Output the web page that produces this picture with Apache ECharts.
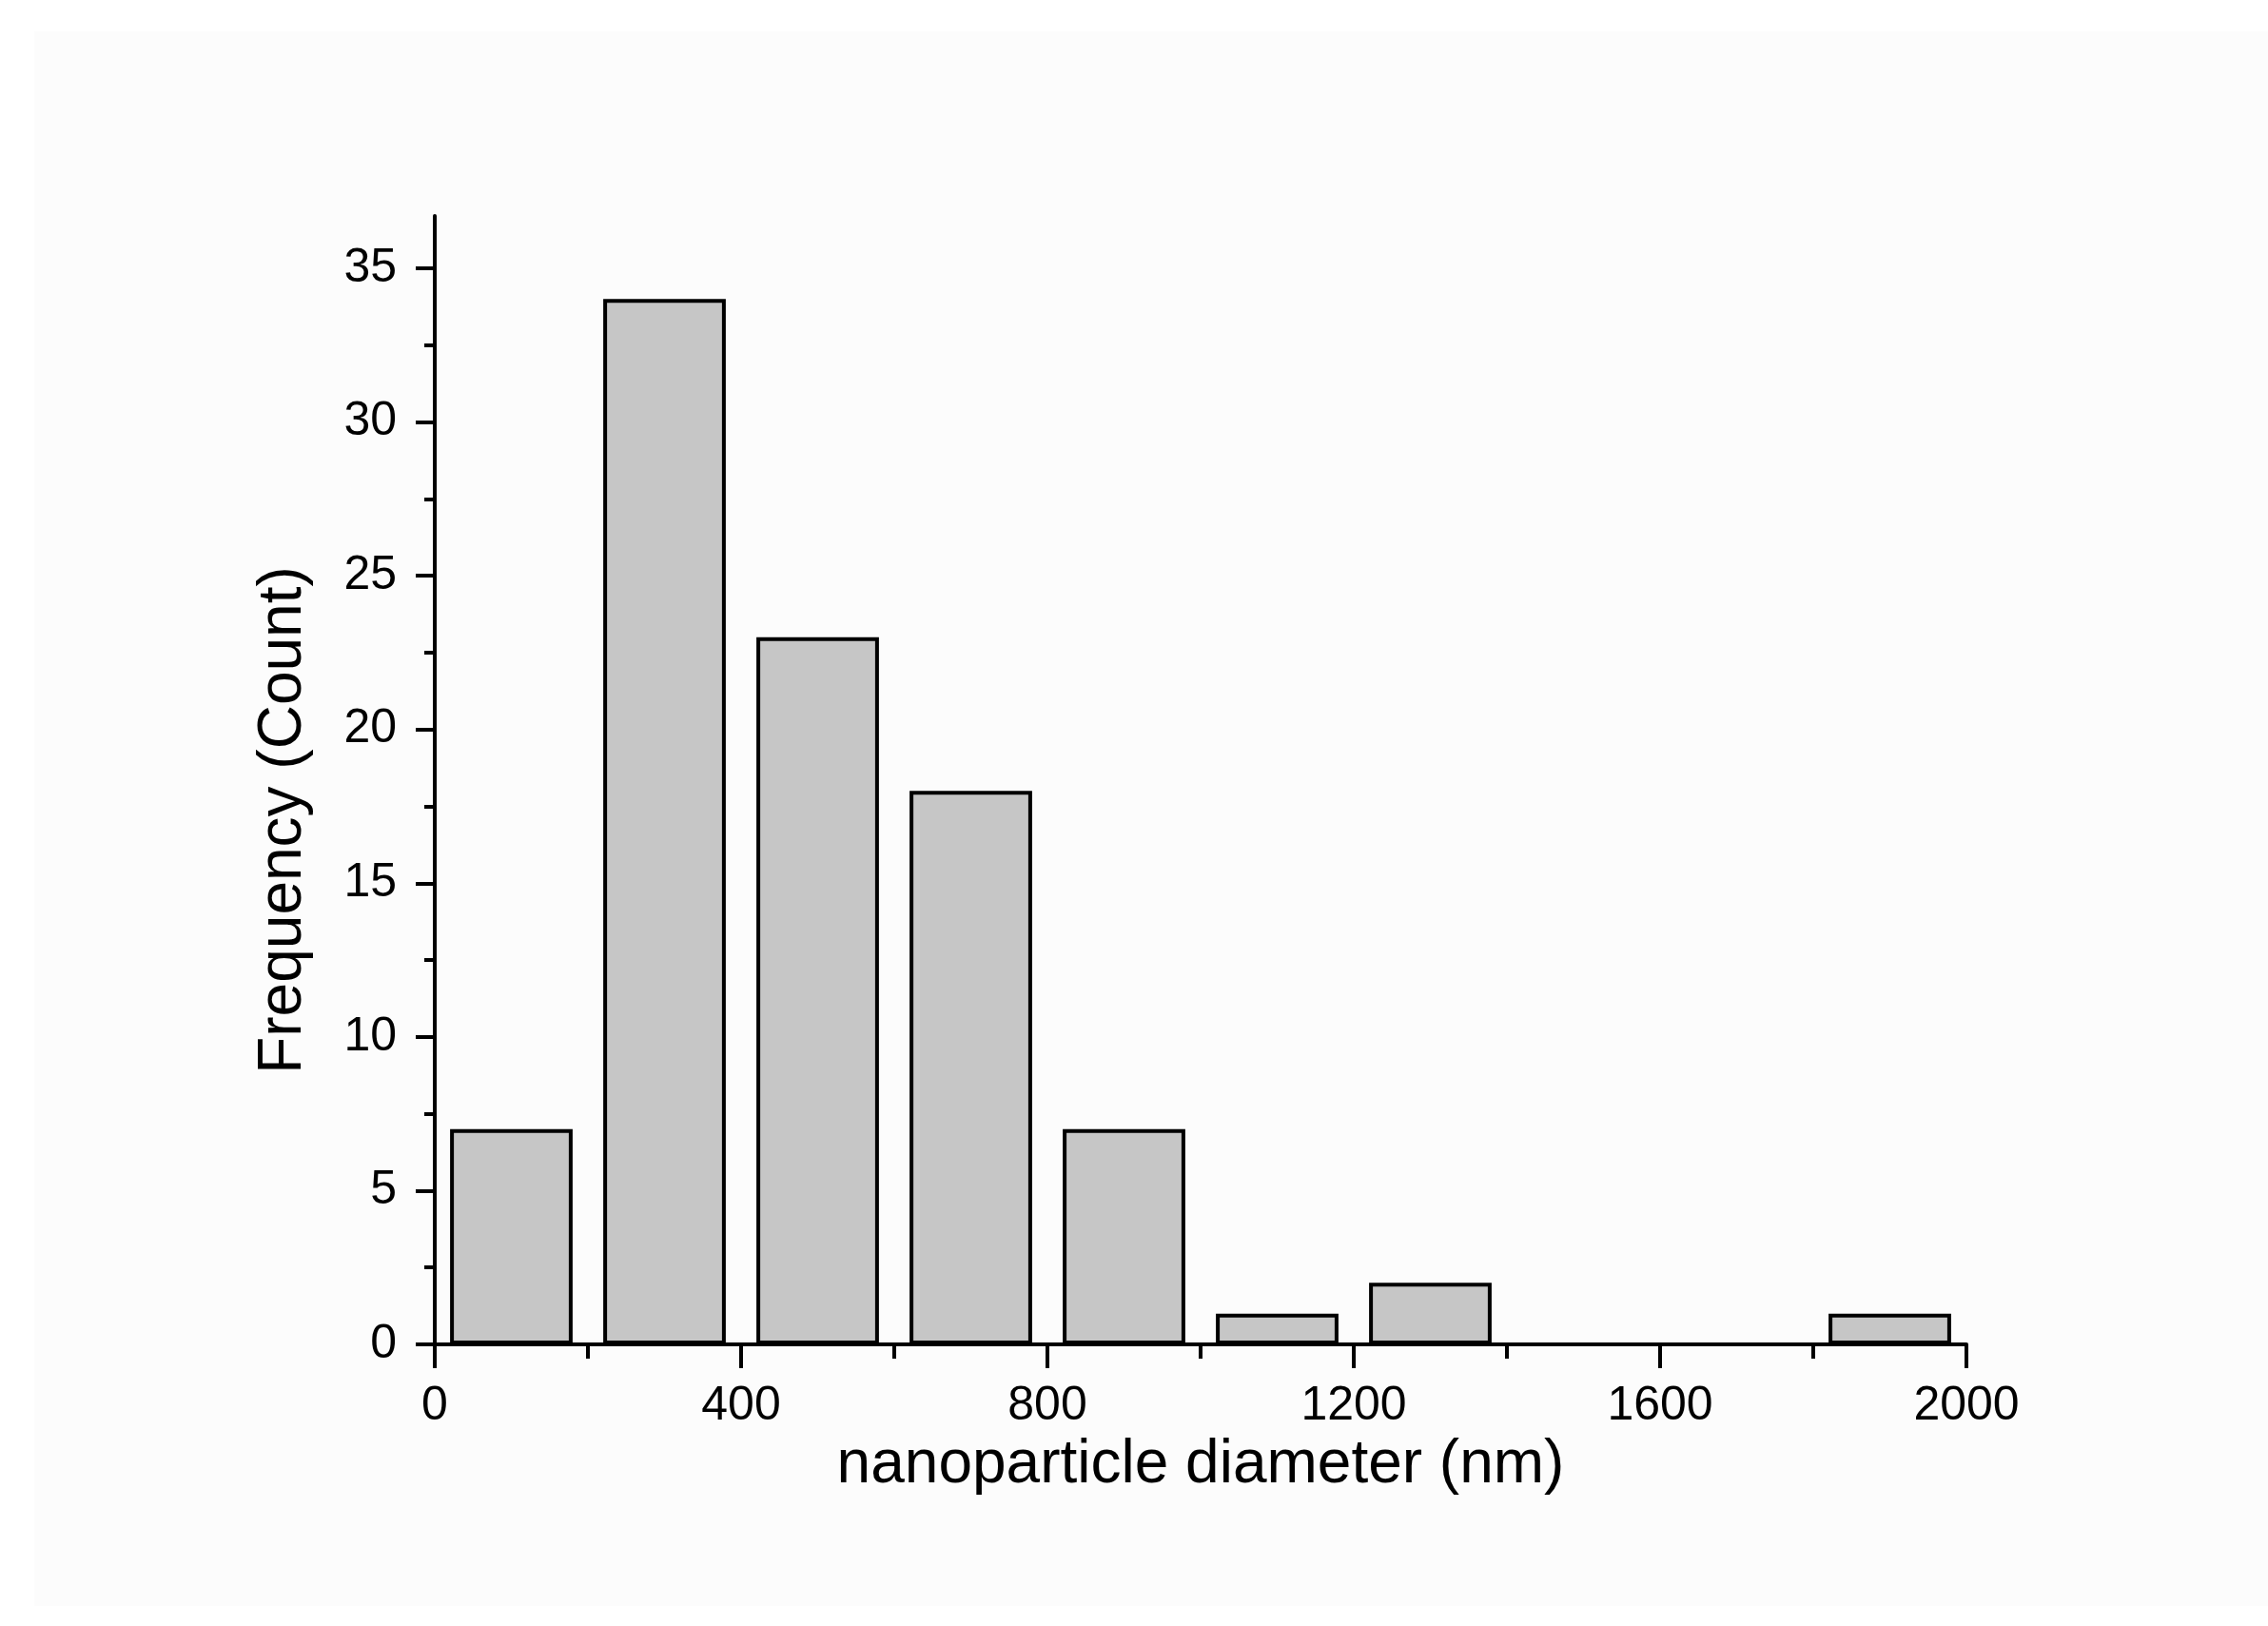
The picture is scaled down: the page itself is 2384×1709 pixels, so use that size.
<!DOCTYPE html>
<html>
<head>
<meta charset="utf-8">
<script src="https://cdn.jsdelivr.net/npm/echarts@6/dist/echarts.min.js"></script>
<style>
  html, body { margin: 0; padding: 0; background: #ffffff; }
  #chart { width: 2384px; height: 1709px; }
</style>
</head>
<body>
<div id="chart"></div>
<script>
// histogram bins (centre of each 200 nm bin) and counts
const binCenters = [100, 300, 500, 700, 900, 1100, 1300, 1500, 1700, 1900]
const counts = [7, 34, 23, 18, 7, 1, 2, 0, 0, 1]

const yMajorTicks = [0, 5, 10, 15, 20, 25, 30, 35]
const yMinorTicks = [2.5, 7.5, 12.5, 17.5, 22.5, 27.5, 32.5]

const font = '"Liberation Sans", Arial, sans-serif'
const black = '#000000'
const lw = 4

const myChart = echarts.init(document.getElementById('chart'), null, { renderer: 'canvas' })
myChart.setOption({
  backgroundColor: '#ffffff',
  animation: false,
  graphic: [
    {
      type: 'rect',
      z: -10,
      silent: true,
      shape: { x: 36, y: 33, width: 2348, height: 1655 },
      style: { fill: '#fcfcfc' }
    }
  ],
  grid: {
    left: 457,
    right: 317,
    top: 227,
    bottom: 296
  },
  xAxis: {
    type: 'value',
    min: 0,
    max: 2000,
    interval: 400,
    name: 'nanoparticle diameter (nm)',
    nameLocation: 'middle',
    nameGap: 95,
    nameTextStyle: { fontFamily: font, fontSize: 64, color: black },
    axisLine: { show: true, lineStyle: { color: black, width: lw } },
    axisTick: { show: true, length: 25, lineStyle: { color: black, width: lw } },
    minorTick: { show: true, splitNumber: 2, length: 15, lineStyle: { color: black, width: lw } },
    axisLabel: {
      margin: 40,
      fontFamily: font,
      fontSize: 50,
      color: black,
      formatter: (v) => String(v)
    },
    splitLine: { show: false }
  },
  yAxis: [
    {
      type: 'value',
      min: 0,
      max: 36.7,
      name: 'Frequency (Count)',
      nameLocation: 'middle',
      nameGap: 127,
      nameTextStyle: { fontFamily: font, fontSize: 64, color: black, padding: [0, 84, 0, 0] },
      axisLine: { show: true, lineStyle: { color: black, width: lw } },
      axisTick: { show: true, length: 20, customValues: yMajorTicks, lineStyle: { color: black, width: lw } },
      axisLabel: { margin: 40, fontFamily: font, fontSize: 50, color: black, customValues: yMajorTicks },
      splitLine: { show: false }
    },
    {
      type: 'value',
      min: 0,
      max: 36.7,
      position: 'left',
      axisLine: { show: false },
      axisTick: { show: true, length: 11, customValues: yMinorTicks, lineStyle: { color: black, width: lw } },
      axisLabel: { show: false },
      splitLine: { show: false }
    }
  ],
  series: [
    {
      type: 'bar',
      yAxisIndex: 0,
      barWidth: '80%',
      itemStyle: {
        color: '#c6c6c6',
        borderColor: black,
        borderWidth: lw
      },
      data: binCenters.map((x, i) => [x, counts[i]])
    }
  ]
})
</script>
</body>
</html>
